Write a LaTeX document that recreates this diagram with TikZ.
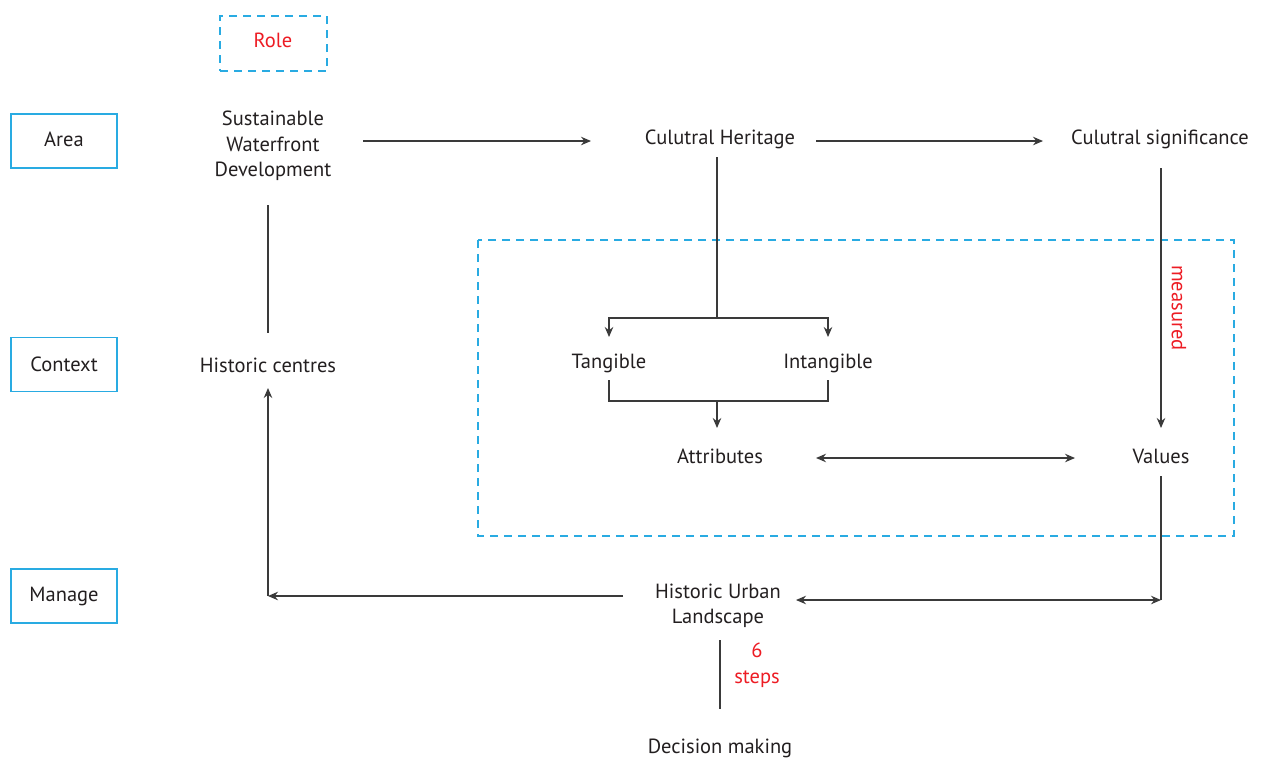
\documentclass[tikz,border=0pt]{standalone}
\usepackage{fontspec}
\setmainfont{PT Sans}
\usetikzlibrary{arrows.meta}
\definecolor{frame}{HTML}{29ABE2}
\definecolor{note}{HTML}{ED1C24}
\definecolor{ink}{HTML}{231F20}
\definecolor{wire}{HTML}{3A3A3A}
\tikzset{
  lbl/.style={font=\fontsize{20.5}{25.5}\selectfont, text=ink, align=center, inner sep=0pt},
  redlbl/.style={font=\fontsize{20.5}{25.5}\selectfont, text=note, align=center, inner sep=0pt},
  sidebox/.style={draw=frame, line width=1.3pt, minimum width=106pt, minimum height=54pt, inner sep=0pt,
    font=\fontsize{20.5}{25.5}\selectfont, text=ink},
  dashbox/.style={draw=frame, line width=1.2pt, dash pattern=on 8pt off 6pt},
  wireline/.style={draw=wire, line width=1.2pt},
  arr/.style={wireline, -{Stealth[length=10pt, width=8.5pt]}},
  darr/.style={wireline, {Stealth[length=10pt, width=8.5pt]}-{Stealth[length=10pt, width=8.5pt]}},
}
\begin{document}
\begin{tikzpicture}[x=1pt, y=-1pt]
\useasboundingbox (0,0) rectangle (1265,758);

% left-hand category boxes
\node[sidebox] (area) at (64,141) {\raisebox{3pt}{Area}};
\node[sidebox] (context) at (64,364.5) {\raisebox{1pt}{Context}};
\node[sidebox] (manage) at (64,596) {\raisebox{1pt}{Manage}};

% role tag
\node[dashbox, minimum width=107pt, minimum height=55pt, inner sep=0pt] (role) at (273.5,43.5) {};
\node[redlbl] (roletxt) at (273,40.5) {Role};

% concept nodes
\node[lbl] (swd) at (273,146) {Sustainable\\Waterfront\\Development};
\node[lbl] (ch) at (720,139) {Culutral Heritage};
\node[lbl] (cs) at (1160,139) {Culutral significance};
\node[lbl] (hc) at (268,365) {Historic centres};
\node[lbl] (tan) at (609,363) {Tangible};
\node[lbl] (intan) at (828,363) {Intangible};
\node[lbl] (attr) at (720,456) {Attributes};
\node[lbl] (val) at (1161,456) {Values};
\node[lbl] (hul) at (718,606) {Historic Urban\\Landscape};
\node[lbl] (dm) at (720,748) {Decision making};

% dashed grouping frame around attributes and values
\draw[dashbox] (478,240) rectangle (1234,536);

% connector end points
\coordinate (swdR) at (363,141);
\coordinate (chL) at (591,141);
\coordinate (chR) at (816,141);
\coordinate (csL) at (1043,141);
\coordinate (swdB) at (268,205);
\coordinate (hcT) at (268,333);
\coordinate (chB) at (717,157);
\coordinate (split) at (717,318);
\coordinate (tanT) at (609,337);
\coordinate (intanT) at (828,337);
\coordinate (tanB) at (609,380);
\coordinate (intanB) at (828,380);
\coordinate (merge) at (717,401);
\coordinate (attrT) at (717,428);
\coordinate (attrR) at (816,458);
\coordinate (valL) at (1075,458);
\coordinate (csB) at (1161,168);
\coordinate (valT) at (1161,428);
\coordinate (valB) at (1161,476);
\coordinate (corner) at (1161,600);
\coordinate (hulR) at (796,600);
\coordinate (hulL) at (623,596);
\coordinate (elbow) at (268,596);
\coordinate (hcB) at (268,388);
\coordinate (hulB) at (720,640);
\coordinate (dmT) at (720,709);

% connectors
\draw[arr] (swdR) -- (chL);
\draw[arr] (chR) -- (csL);
\draw[wireline] (swdB) -- (hcT);
\draw[wireline] (chB) -- (split);
\draw[arr] (split) -| (tanT);
\draw[arr] (split) -| (intanT);
\draw[wireline] (tanB) |- (merge);
\draw[wireline] (intanB) |- (merge);
\draw[arr] (merge) -- (attrT);
\draw[darr] (attrR) -- (valL);
\draw[arr] (csB) -- (valT);
\draw[wireline] (valB) -- (corner);
\draw[darr] (hulR) -- (corner);
\draw[arr] (hulL) -- (elbow);
\draw[arr] (elbow) -- (hcB);
\draw[wireline] (hulB) -- (dmT);

% edge annotations
\node[redlbl, rotate=-90] (measured) at (1179,308) {measured};
\node[redlbl] (steps) at (757,665) {6\\steps};
\end{tikzpicture}
\end{document}
